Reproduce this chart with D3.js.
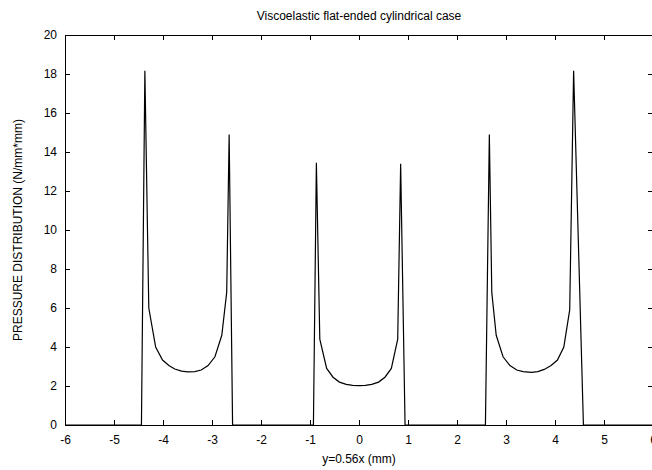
<!DOCTYPE html>
<html>
<head>
<meta charset="utf-8">
<script src="https://cdn.jsdelivr.net/npm/d3@7"></script>
<style>
  body { margin: 0; background: #fff; }
  svg { display: block; }
  text { font-family: "Liberation Sans", Arial, sans-serif; font-size: 12px; fill: #000; }
</style>
</head>
<body>
<svg id="chart" width="652" height="470"></svg>
<script>
// ---- data ----
const title = "Viscoelastic flat-ended cylindrical case";
const xLabel = "y=0.56x (mm)";
const yLabel = "PRESSURE DISTRIBUTION (N/mm*mm)";
const xTickValues = [-6, -5, -4, -3, -2, -1, 0, 1, 2, 3, 4, 5, 6];
const yTickValues = [0, 2, 4, 6, 8, 10, 12, 14, 16, 18, 20];
const xs = [-6, -4.44, -4.37, -4.29, -4.15, -4.01, -3.88, -3.76, -3.62, -3.49, -3.35, -3.22, -3.08, -2.94, -2.80, -2.70, -2.65, -2.58,
            -0.93, -0.87, -0.80, -0.66, -0.53, -0.40, -0.26, -0.13, 0, 0.13, 0.26, 0.40, 0.53, 0.66, 0.79, 0.85, 0.94,
            2.58, 2.66, 2.71, 2.80, 2.94, 3.08, 3.22, 3.35, 3.52, 3.65, 3.78, 3.92, 4.05, 4.18, 4.30, 4.38, 4.58, 6];
const ys = [0, 0, 18.17, 6.0, 4.0, 3.33, 3.05, 2.87, 2.76, 2.72, 2.74, 2.82, 3.05, 3.5, 4.6, 6.8, 14.9, 0,
            0, 13.45, 4.4, 2.9, 2.45, 2.2, 2.08, 2.03, 2.02, 2.03, 2.08, 2.2, 2.45, 2.9, 4.4, 13.4, 0,
            0, 14.9, 6.8, 4.6, 3.5, 3.05, 2.82, 2.74, 2.70, 2.74, 2.85, 3.05, 3.33, 4.0, 5.9, 18.17, 0, 0];

// ---- layout ----
const L = 65, R = 653, T = 35, B = 425;
const svg = d3.select("#chart");
const x = d3.scaleLinear().domain([-6, 6]).range([L, R]);
const y = d3.scaleLinear().domain([0, 20]).range([B, T]);
const tl = 5;
const fmt = d => String(d);

// inward ticks on all four sides
const gx = svg.append("g").attr("transform", `translate(0,${B})`)
  .call(d3.axisBottom(x).tickValues(xTickValues).tickSizeInner(-tl).tickSizeOuter(0).tickPadding(8).tickFormat(fmt));
const gxt = svg.append("g").attr("transform", `translate(0,${T})`)
  .call(d3.axisTop(x).tickValues(xTickValues).tickSizeInner(-tl).tickSizeOuter(0).tickFormat(""));
const gy = svg.append("g").attr("transform", `translate(${L},0)`)
  .call(d3.axisLeft(y).tickValues(yTickValues).tickSizeInner(-tl).tickSizeOuter(0).tickPadding(8).tickFormat(fmt));
const gyr = svg.append("g").attr("transform", `translate(${R},0)`)
  .call(d3.axisRight(y).tickValues(yTickValues).tickSizeInner(-tl).tickSizeOuter(0).tickFormat(""));
[gx, gxt, gy, gyr].forEach(g => {
  g.select(".domain").remove();
  g.selectAll("line").attr("stroke", "#000").attr("stroke-width", 1);
  g.selectAll("text").attr("font-size", 12).attr("font-family", '"Liberation Sans", Arial, sans-serif').attr("fill", "#000");
});
gx.selectAll("text").attr("dy", "0.9em");

svg.append("rect").attr("x", L + 0.5).attr("y", T + 0.5).attr("width", R - L).attr("height", B - T)
  .attr("fill", "none").attr("stroke", "#000").attr("stroke-width", 1);

// curve
const pts = xs.map((v, i) => [v, ys[i]]);
svg.append("path").datum(pts)
  .attr("fill", "none").attr("stroke", "#000").attr("stroke-width", 1.2)
  .attr("d", d3.line().x(d => x(d[0])).y(d => y(d[1])));

// labels
svg.append("text").attr("x", (L + R) / 2).attr("y", 20).attr("text-anchor", "middle").text(title);
svg.append("text").attr("x", (L + R) / 2).attr("y", 463).attr("text-anchor", "middle").text(xLabel);
svg.append("text").attr("transform", `translate(22,${(T + B) / 2}) rotate(-90)`).attr("text-anchor", "middle").text(yLabel);
</script>
</body>
</html>
